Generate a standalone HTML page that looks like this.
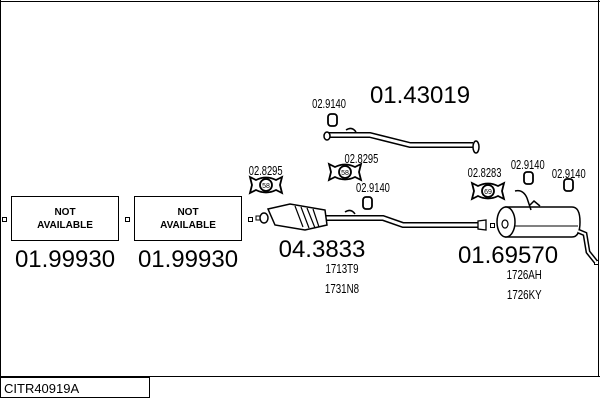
<!DOCTYPE html>
<html><head><style>
html,body{margin:0;padding:0;background:#fff;}
svg{display:block;font-family:"Liberation Sans",sans-serif;}
</style></head><body>
<svg width="600" height="400" viewBox="0 0 600 400">
<rect x="0" y="0" width="600" height="400" fill="#fff"/>
<g stroke="#000" fill="none" stroke-width="1">
<line x1="0" y1="1.5" x2="600" y2="1.5"/>
<line x1="0.5" y1="0" x2="0.5" y2="377"/>
<line x1="0" y1="376.5" x2="600" y2="376.5"/>
<line x1="598.5" y1="0" x2="598.5" y2="377"/>
<rect x="0.5" y="377.5" width="149" height="20"/>
<rect x="11.5" y="196.5" width="107" height="44"/>
<rect x="134.5" y="196.5" width="107" height="44"/>
<rect x="2.5" y="217.5" width="4" height="4"/>
<rect x="125.5" y="217.5" width="4" height="4"/>
<rect x="248.5" y="217.5" width="4" height="4"/>
<rect x="490.5" y="223.5" width="4" height="4"/>
<rect x="594.5" y="260.5" width="4" height="4"/>
</g>
<g font-size="10" font-weight="bold" text-anchor="middle">
<text x="65" y="215">NOT</text><text x="65" y="228">AVAILABLE</text>
<text x="188" y="215">NOT</text><text x="188" y="228">AVAILABLE</text>
</g>
<g font-size="24" text-anchor="middle">
<text x="65" y="267">01.99930</text>
<text x="188" y="267">01.99930</text>
<text x="322" y="257">04.3833</text>
<text x="508" y="263">01.69570</text>
<text x="420" y="103">01.43019</text>
</g>
<g font-size="13" text-anchor="middle" transform="scale(0.75,1)">
<text x="456" y="273">1713T9</text>
<text x="456" y="293">1731N8</text>
<text x="699" y="279">1726AH</text>
<text x="699" y="299">1726KY</text>
</g>
<text x="4" y="393" font-size="13">CITR40919A</text>
<g font-size="13" text-anchor="middle" transform="scale(0.72,1)">
<text x="369" y="175">02.8295</text>
<text x="502" y="163">02.8295</text>
<text x="518" y="192">02.9140</text>
<text x="457" y="108">02.9140</text>
<text x="673" y="177">02.8283</text>
<text x="733" y="169">02.9140</text>
<text x="790" y="178">02.9140</text>
</g>
<g stroke="#000" stroke-width="1.8" fill="#fff">
<path d="M250,177 l6,3 q10,-5 20,0 l6,-3 l-2,8 l2,8 l-6,-3 q-10,5 -20,0 l-6,3 l2,-8z"/>
<circle cx="266" cy="185" r="6"/>
<path d="M329,164 l6,3 q10,-5 20,0 l6,-3 l-2,8 l2,8 l-6,-3 q-10,5 -20,0 l-6,3 l2,-8z"/>
<circle cx="345" cy="172" r="6"/>
<path d="M472,183 l6,3 q10,-5 20,0 l6,-3 l-2,8 l2,8 l-6,-3 q-10,5 -20,0 l-6,3 l2,-8z"/>
<circle cx="488" cy="191" r="6"/>
<rect x="328" y="114" width="9" height="12" rx="3"/>
<rect x="363" y="197" width="9" height="12" rx="3"/>
<rect x="524" y="172" width="9" height="12" rx="3"/>
<rect x="564" y="179" width="9" height="12" rx="3"/>
</g>
<g font-size="7" text-anchor="middle">
<text x="266" y="188">58</text><text x="345" y="175">58</text><text x="488" y="194">69</text>
</g>
<g stroke="#000" fill="none">
<path d="M328,135 L370,135 L410,145 L473,145" stroke-width="6"/>
<path d="M328,135 L370,135 L410,145 L473,145" stroke="#fff" stroke-width="3"/>
<ellipse cx="327" cy="136" rx="3" ry="4" stroke-width="1.5" fill="#fff"/>
<ellipse cx="476" cy="147" rx="3" ry="6" stroke-width="1.5" fill="#fff"/>
<path d="M346,130 q6,-4 10,2" stroke-width="1.5"/>
<path d="M325,218 L383,218 L403,225 L482,225" stroke-width="6"/>
<path d="M325,218 L383,218 L403,225 L482,225" stroke="#fff" stroke-width="3"/>
<path d="M345,212 q6,-4 10,2" stroke-width="1.5"/>
<path d="M478,221 l8,-1 v10 l-8,-1z" stroke-width="1.3" fill="#fff"/>
<path d="M268,209 L290,204 L325,210 L327,225 L305,230 L275,225 Z" stroke-width="1.5" fill="#fff"/>
<path d="M295,206 l8,21 M301,207 l8,21 M307,208 l8,20 M313,209 l6,18" stroke-width="1.2"/>
<ellipse cx="264" cy="218" rx="4" ry="5" stroke-width="1.5" fill="#fff"/>
<rect x="256" y="216" width="4" height="4" stroke-width="1"/>
<path d="M505,207 L572,207 Q580,207 580,222 Q580,237 572,237 L505,237" stroke-width="1.5" fill="#fff"/>
<ellipse cx="506" cy="222" rx="9" ry="15" stroke-width="1.5" fill="#fff"/>
<ellipse cx="505" cy="224" rx="3" ry="4" stroke-width="1.2"/>
<path d="M515,226 L578,226" stroke-width="1"/>
<path d="M578,231 L585,234 L588,252 L596,262" stroke-width="5"/>
<path d="M578,231 L585,234 L588,252 L596,262" stroke="#fff" stroke-width="2"/>
<path d="M515,191 q8,-2 12,7 l4,12 M530,205 l4,-4 l6,5" stroke-width="1.5"/>
</g>
</svg>
</body></html>
